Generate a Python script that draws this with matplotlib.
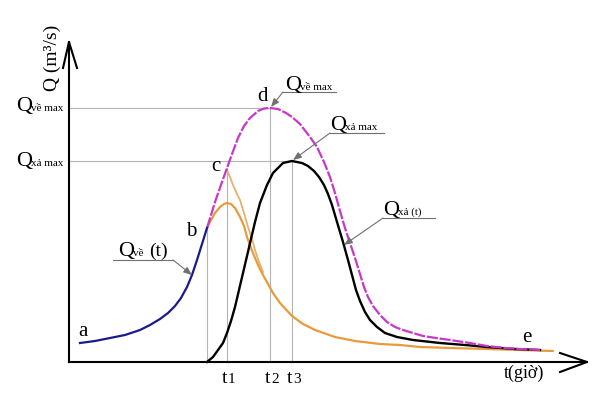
import matplotlib
matplotlib.use("Agg")
import matplotlib.pyplot as plt
import numpy as np

plt.rcParams['font.family'] = ['Liberation Serif', 'DejaVu Serif']

# curves (t = time axis units, Q = discharge units)
blue_t = [80, 95, 110, 125, 140, 150, 160, 168, 175, 181, 187, 192, 197, 202, 207]
blue_q = [51, 53, 56, 59, 64, 69, 75, 81, 88, 96, 107, 119, 134, 150, 166]

mag_t = [207, 215, 222, 227, 232, 238, 244, 250, 258, 264, 270, 278, 286, 292, 300,
         310, 317, 324, 330, 335, 340, 345, 350, 355, 360, 364, 368, 373, 380, 387,
         395, 403, 413, 423, 436, 450, 470, 487, 505, 520, 540]
mag_q = [166, 192, 212, 226, 240, 256, 268, 276, 283, 285.5, 286, 285, 281, 277, 270,
         257, 247, 232, 217, 201, 183, 166, 151, 136, 120, 107, 97, 88, 79, 72,
         67, 64, 61, 58, 56, 54, 51, 48, 46, 45, 44]

blk_t = [207, 213, 218, 223, 227, 231, 235, 239, 243, 247, 251, 255, 260, 267, 273,
         283, 292, 302, 308, 314, 319, 324, 328, 332, 337, 343, 348, 352, 356, 360,
         365, 370, 377, 385, 397, 413, 440, 465, 487, 515, 540]
blk_q = [32, 37, 44, 51, 61, 73, 87, 104, 121, 138, 155, 172, 191, 209, 221,
         231, 233, 231, 228, 223, 217, 209, 200, 189, 172, 152, 134, 119, 104, 93,
         82, 74, 67, 61, 57, 54, 51, 49, 47, 45, 44]

org_t = [207, 211, 215, 220, 224, 227, 231, 235, 240, 244, 247, 251, 255, 259, 263,
         268, 273, 280, 292, 303, 315, 335, 355, 380, 400, 420, 450, 487, 520, 553]
org_q = [166, 174, 181, 187, 190, 191, 190, 186, 177, 168, 157, 146, 136, 127, 119,
         110, 101, 91, 78, 70, 64, 57, 53, 50, 49, 47, 46, 45, 44, 43]

tan_t = [227, 230, 233, 237, 240, 244, 248, 252, 255, 259, 263]
tan_q = [224, 217, 209, 200, 194, 181, 167, 155, 144, 132, 122]

AXIS_Q = 32
AXIS_T = 69

fig = plt.figure(figsize=(6, 3.94), dpi=100)
ax = fig.add_axes([0, 0, 1, 1])
ax.set_xlim(0, 600)
ax.set_ylim(0, 394)
ax.axis('off')

grey = '#b4b4b4'

# key points
d_i = int(np.argmax(mag_q))
d_t, d_q = mag_t[d_i], mag_q[d_i]
p_i = int(np.argmax(blk_q))
p_t, p_q = blk_t[p_i], blk_q[p_i]
o_i = int(np.argmax(org_q))
t1 = org_t[o_i]
c_q = mag_q[mag_t.index(t1)]
b_t, b_q = mag_t[0], mag_q[0]

# guide lines
ax.plot([AXIS_T, d_t], [d_q, d_q], color=grey, lw=0.8)
ax.plot([AXIS_T, p_t], [p_q, p_q], color=grey, lw=0.8)
ax.plot([b_t, b_t], [AXIS_Q, b_q], color=grey, lw=0.8)
ax.plot([t1, t1], [AXIS_Q, c_q], color=grey, lw=0.8)
ax.plot([d_t, d_t], [AXIS_Q, d_q], color=grey, lw=0.8)
ax.plot([p_t, p_t], [AXIS_Q, p_q], color=grey, lw=0.8)

# curves
ax.plot(tan_t, tan_q, color='#e8b070', lw=1.3)
ax.plot(org_t, org_q, color='#e99a3c', lw=1.6, solid_capstyle='round')
ax.plot(blk_t, blk_q, color='black', lw=1.7)
ax.plot(mag_t, mag_q, color='#c837c8', lw=1.6, ls=(0, (5, 0.8)))
ax.plot(blue_t, blue_q, color='#1a1a8c', lw=1.6)

# axes with open arrow heads
ax.plot([AXIS_T, AXIS_T], [AXIS_Q, 352], color='black', lw=1.5)
ax.plot([63, AXIS_T, 77], [326, 352, 326], color='black', lw=1.5)
ax.plot([AXIS_T, 587], [AXIS_Q, AXIS_Q], color='black', lw=1.5)
ax.plot([560, 587, 560], [41, AXIS_Q, 22], color='black', lw=1.5)

ax.text(52, 336, 'Q (m³/s)', fontsize=14, rotation=90, ha='center', va='center')
ax.text(504, 20.5, 't(giờ)', fontsize=13, ha='left', va='center')

for x, s in [(t1, '1'), (d_t, '2'), (p_t, '3')]:
    ax.text(x - 5, 11, 't', fontsize=14, ha='left', va='baseline')
    ax.text(x + 1, 11, s, fontsize=11, ha='left', va='baseline')

# point letters
for x, y, s in [(83, 63, 'a'), (191, 163, 'b'), (216, 228, 'c'), (263, 298, 'd'), (527, 56, 'e')]:
    ax.text(x, y, s, fontsize=15, ha='center', va='center')


def qlabel(x, y, sub, big=16, small=8):
    ax.text(x, y, 'Q', fontsize=big, ha='left', va='baseline')
    ax.text(x + 15, y, sub, fontsize=small, ha='left', va='baseline')


qlabel(16, 283, 'về max')
qlabel(16, 228, 'xả max')
qlabel(285, 304, 'về max')
qlabel(330, 264, 'xả max')
qlabel(383, 179, 'xả (t)')
ax.text(118, 138, 'Q', fontsize=16, ha='left', va='baseline')
ax.text(133, 138, 'về', fontsize=8, ha='left', va='baseline')
ax.text(149, 138, '(t)', fontsize=14, ha='left', va='baseline')

# leader lines
ap = dict(arrowstyle='-|>,head_length=0.5,head_width=0.2', color='#707070', lw=0.8,
          shrinkA=0, shrinkB=0)
for (x0, x1, y0), target in [((283, 336, 302), (d_t + 1, d_q + 1)),
                             ((330, 384, 261), (p_t + 1, p_q + 1)),
                             ((383, 435, 176), (344, 149)),
                             ((113, 173, 134), (192, 119))]:
    ax.plot([x0, x1], [y0, y0], color='#707070', lw=0.8)
    sx = x1 if target[0] > x1 else x0
    ax.annotate('', xy=target, xytext=(sx, y0), arrowprops=ap)

fig.savefig('out.png', dpi=100, facecolor='white')
